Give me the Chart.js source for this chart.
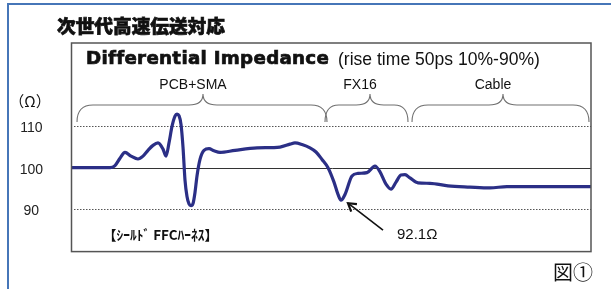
<!DOCTYPE html>
<html>
<head>
<meta charset="utf-8">
<script src="https://cdn.jsdelivr.net/npm/chart.js@4/dist/chart.umd.min.js"></script>
<style>
  html, body { margin:0; padding:0; background:#fff; }
  body { width:611px; height:289px; position:relative; overflow:hidden; }
  #frame { position:absolute; left:7px; top:3px; width:640px; height:320px;
           border-top:2px solid #4676b8; border-left:2px solid #4676b8; }
  canvas { position:absolute; left:0; top:0; }
  .t { position:absolute; white-space:nowrap; line-height:1; color:#111; }
  .heavy { -webkit-text-stroke:0.7px #111; }
</style>
</head>
<body>
<div id="frame"></div>
<canvas id="c" width="611" height="289"></canvas>
<div class="t heavy" id="title" style="left:57px;top:25px;transform:translateY(-50%);font-family:'Noto Sans CJK JP';font-weight:900;font-size:18px;">次世代高速伝送対応</div>
<div class="t heavy" id="sub1" style="left:86px;top:58px;transform:translateY(-50%);font-family:'DejaVu Sans';font-weight:bold;font-size:19px;letter-spacing:0.3px;">Differential Impedance</div>
<div class="t" id="sub2" style="left:338px;top:60px;transform:translateY(-50%);font-family:'Liberation Sans';font-size:17px;">(rise time 50ps 10%-90%)</div>
<div class="t" id="unit" style="left:30px;top:100px;transform:translate(-50%,-50%);font-family:'Noto Sans CJK JP';font-size:15px;">（Ω）</div>
<div class="t" id="harness" style="left:103px;top:235px;transform:translateY(-50%);font-family:'Noto Sans CJK JP';font-weight:bold;font-size:13px;">【ｼｰﾙﾄﾞ FFCﾊｰﾈｽ】</div>
<div class="t" id="fig" style="left:553px;top:272px;transform:translateY(-50%);font-family:'Noto Sans CJK JP';font-size:19px;">図①</div>
<script>
// ---- data (time position along the trace, impedance in ohms) ----
const timePos = [0, 38, 43, 48, 53, 59, 66, 71, 76, 81, 86, 91, 94, 97, 100, 103, 105, 107, 109, 111, 113, 115, 117, 119, 121, 123, 125, 128, 132, 137, 142, 148, 163, 185, 208, 218, 223, 230, 238, 244, 250, 256, 262, 266, 269, 273, 280, 286, 295, 303, 308, 314, 319, 324, 329, 333, 338, 346, 358, 376, 398, 418, 435, 468, 519];
const impedance = [100, 100, 100.5, 102.3, 103.7, 102.8, 102.1, 102.8, 104.2, 105.4, 106, 104.5, 102.8, 106, 110, 112.5, 113, 112.6, 110.5, 105, 97, 93, 91.2, 90.8, 91.3, 94, 98, 102, 104.2, 104.6, 104.1, 103.7, 104.2, 104.8, 105, 105.7, 106, 105.6, 104.8, 103.8, 102, 100, 96.5, 93.5, 92.1, 93.5, 98, 98.6, 98.8, 100.4, 99, 96, 94.8, 96.5, 98.2, 98.3, 97.5, 96.3, 96.2, 95.6, 95.3, 95.1, 95.4, 95.4, 95.4];
const yTicks = [90, 100, 110];
const sectionNames = ['PCB+SMA', 'FX16', 'Cable'];
const sectionStart = [5, 253, 340];
const sectionEnd = [255, 336, 517];
const sectionTip = [131, 298, 431];
const markerTime = 269;
const markerLabel = '92.1Ω';

const points = timePos.map((t, i) => ({x: t, y: impedance[i]}));

const decor = {
  id: 'decor',
  beforeDatasetsDraw(chart) {
    const {ctx, chartArea: a, scales: {y}} = chart;
    ctx.save();
    yTicks.forEach(v => {
      const py = Math.round(y.getPixelForValue(v)) + 0.5;
      ctx.beginPath();
      ctx.lineWidth = 1;
      if (v === 100) { ctx.setLineDash([]); ctx.strokeStyle = '#333'; }
      else { ctx.setLineDash([1.5, 1.5]); ctx.strokeStyle = '#555'; }
      ctx.moveTo(a.left + 2, py); ctx.lineTo(a.right, py); ctx.stroke();
    });
    ctx.restore();
  },
  afterDraw(chart) {
    const {ctx, chartArea: a, scales: {x, y}} = chart;
    ctx.save();
    // frame box
    ctx.strokeStyle = '#555'; ctx.lineWidth = 1.5; ctx.setLineDash([]);
    ctx.strokeRect(a.left - 0.5, a.top, a.right - a.left + 0.5, a.bottom - a.top);
    // braces
    const yEnd = 122, yLine = 105, yTip = 94;
    ctx.strokeStyle = '#707070'; ctx.lineWidth = 1.1;
    sectionNames.forEach((name, i) => {
      const x0 = x.getPixelForValue(sectionStart[i]);
      const x1 = x.getPixelForValue(sectionEnd[i]);
      const xt = x.getPixelForValue(sectionTip[i]);
      const r = Math.min(16, (x1 - x0) / 6);
      const rt = Math.min(14, (x1 - x0) / 6);
      ctx.beginPath();
      ctx.moveTo(x0, yEnd);
      ctx.quadraticCurveTo(x0, yLine, x0 + r, yLine);
      ctx.lineTo(xt - rt, yLine);
      ctx.quadraticCurveTo(xt, yLine, xt, yTip);
      ctx.quadraticCurveTo(xt, yLine, xt + rt, yLine);
      ctx.lineTo(x1 - r, yLine);
      ctx.quadraticCurveTo(x1, yLine, x1, yEnd);
      ctx.stroke();
      ctx.fillStyle = '#111';
      ctx.font = '14px "Liberation Sans"';
      ctx.textAlign = 'center'; ctx.textBaseline = 'middle';
      ctx.fillText(name, xt - 10, 85);
    });
    // arrow to minimum
    const mi = timePos.indexOf(markerTime);
    const px = x.getPixelForValue(markerTime) + 7;
    const py = y.getPixelForValue(impedance[mi]) + 3;
    const tx = px + 35, ty = py + 27;
    ctx.strokeStyle = '#111'; ctx.lineWidth = 1.6;
    ctx.beginPath(); ctx.moveTo(tx, ty); ctx.lineTo(px, py); ctx.stroke();
    const ang = Math.atan2(ty - py, tx - px);
    ctx.lineWidth = 2.2;
    ctx.beginPath();
    ctx.moveTo(px + 9 * Math.cos(ang - 0.55), py + 9 * Math.sin(ang - 0.55));
    ctx.lineTo(px, py);
    ctx.lineTo(px + 9 * Math.cos(ang + 0.55), py + 9 * Math.sin(ang + 0.55));
    ctx.stroke();
    ctx.fillStyle = '#111';
    ctx.font = '15px "Liberation Sans"';
    ctx.textAlign = 'left'; ctx.textBaseline = 'middle';
    ctx.fillText(markerLabel, tx + 14, ty + 5);
    ctx.restore();
  }
};

new Chart(document.getElementById('c'), {
  type: 'line',
  data: { datasets: [{
    data: points,
    borderColor: '#2b2f86',
    borderWidth: 3.2,
    pointRadius: 0,
    cubicInterpolationMode: 'monotone',
    fill: false
  }]},
  options: {
    responsive: false,
    animation: false,
    devicePixelRatio: 1,
    layout: { padding: { left: 0, right: 20, top: 43, bottom: 36 } },
    plugins: { legend: { display: false }, tooltip: { enabled: false } },
    scales: {
      x: { type: 'linear', min: 0, max: 519, display: false },
      y: {
        min: 79.64, max: 130.24,
        afterBuildTicks: s => { s.ticks = yTicks.map(v => ({value: v})); },
        afterFit: s => { s.width = 72; },
        grid: { display: false, drawTicks: false },
        border: { display: false },
        ticks: { padding: 29, crossAlign: 'center', color: '#222', labelOffset: 2,
                 font: { family: 'Liberation Sans', size: 14 } }
      }
    }
  },
  plugins: [decor]
});

// fit text widths to the reference
function fit(id, w) {
  const el = document.getElementById(id);
  const r = el.getBoundingClientRect().width;
  const fs = parseFloat(getComputedStyle(el).fontSize);
  el.style.fontSize = (fs * w / r) + 'px';
}
fit('title', 168); fit('sub1', 243); fit('sub2', 202); fit('harness', 115); fit('fig', 40);
</script>
</body>
</html>
